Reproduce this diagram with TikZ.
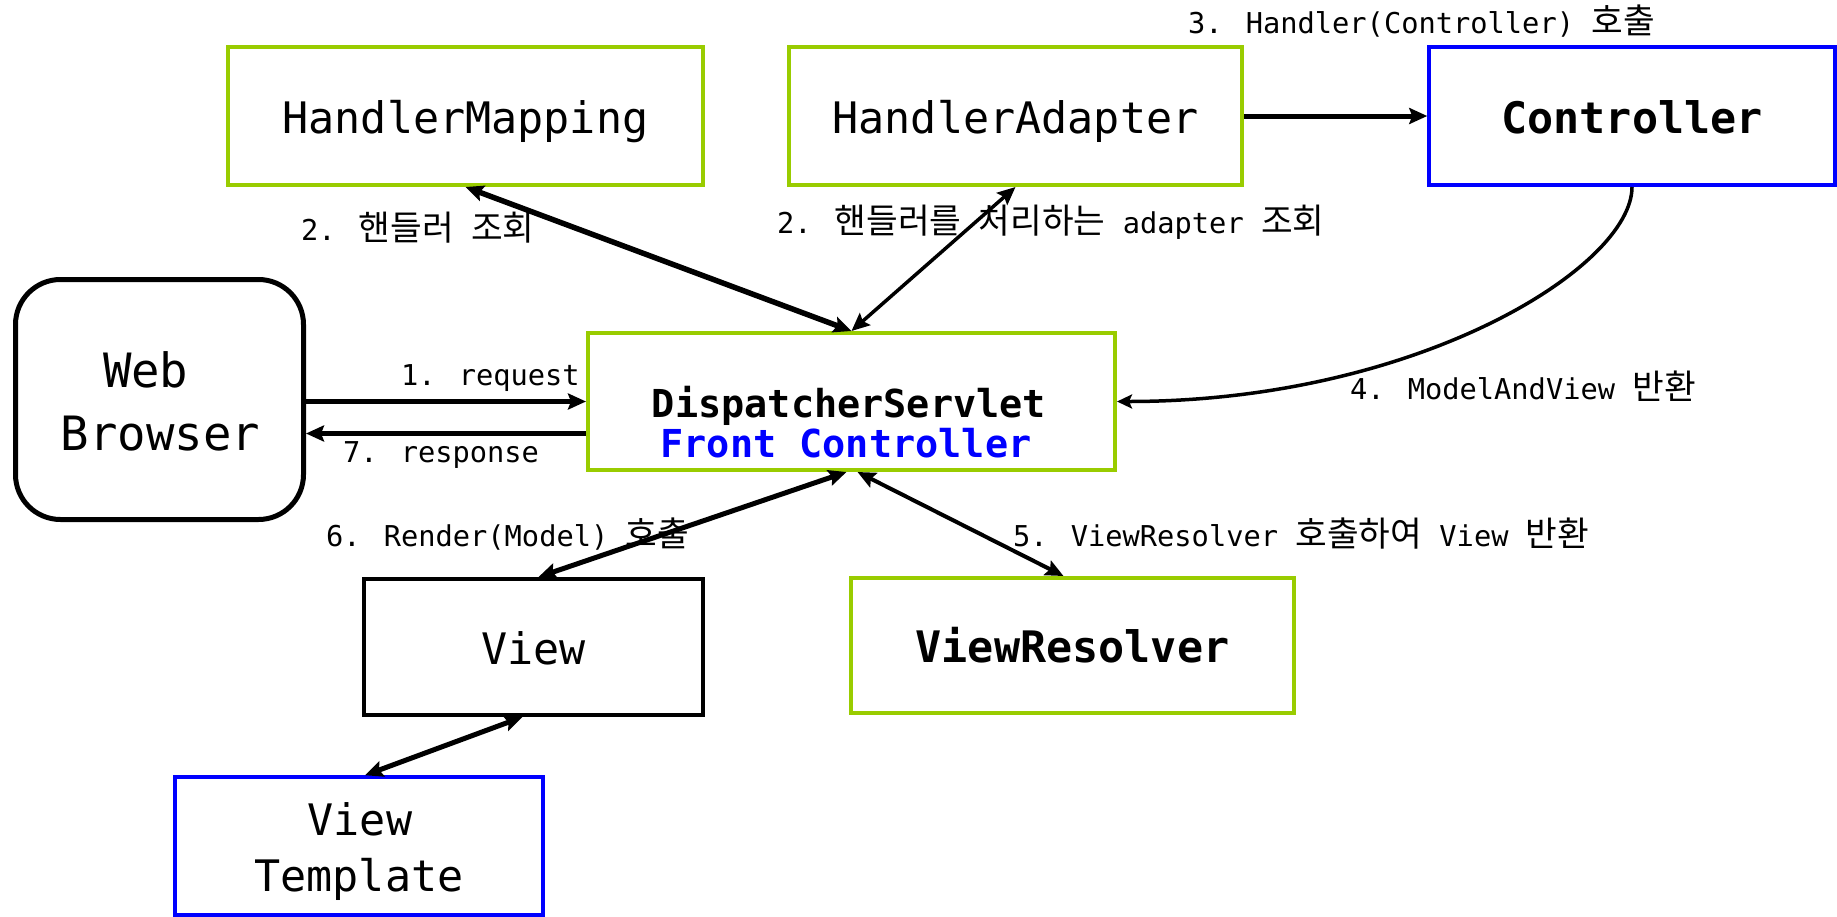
\documentclass[tikz,border=0pt]{standalone}
\usepackage{fontspec}
\setmainfont{DejaVu Sans Mono}
\newfontfamily\kr[Scale=1.2]{Noto Sans CJK KR}
\usetikzlibrary{arrows.meta,calc}
\definecolor{lgreen}{RGB}{153,204,0}
\definecolor{pblue}{RGB}{0,0,255}
\tikzset{
  box/.style={draw, line width=4pt, rectangle, minimum height=138pt, text height=34pt, text depth=0pt, inner sep=0pt},
  gbox/.style={box, draw=lgreen},
  bbox/.style={box, draw=pblue},
  kbox/.style={box, draw=black},
  big/.style={font=\fontsize{43.4}{52}\selectfont},
  bigb/.style={font=\fontsize{43.4}{52}\selectfont\bfseries},
  txt/.style={anchor=base, inner sep=0pt},
  lbl/.style={anchor=base west, inner sep=0pt, font=\fontsize{28.7}{34}\selectfont},
  conn/.style={line width=5pt, {Stealth[length=18pt,width=16pt,inset=3pt]}-{Stealth[length=18pt,width=16pt,inset=3pt]}},
  oneway/.style={line width=5pt, -{Stealth[length=18pt,width=16pt,inset=3pt]}}
}
\begin{document}
\begin{tikzpicture}[x=1pt,y=-1pt]
\useasboundingbox (0,0) rectangle (1837,916);
% boxes
\node[gbox, big, minimum width=475pt] (hm) at (465.5,116) {HandlerMapping};
\node[gbox, big, minimum width=453pt] (ha) at (1015.5,116) {HandlerAdapter};
\node[bbox, bigb, minimum width=405.5pt] (ctrl) at (1632,116) {Controller};
\node[gbox, minimum width=527pt, minimum height=137pt] (ds) at (851.5,401.5) {};
\node[kbox, rounded corners=45pt, line width=5pt, minimum width=288pt, minimum height=240pt] (wb) at (159.5,399.5) {};
\node[kbox, big, minimum width=339pt, minimum height=136pt] (view) at (533.5,647) {View};
\node[gbox, bigb, minimum width=443pt, minimum height=135pt] (vr) at (1072.5,645.5) {ViewResolver};
\node[bbox, minimum width=368pt, minimum height=137.5pt] (vt) at (359,846) {};
% multi-line box texts
\node[txt, font=\fontsize{47.3}{56}\selectfont] (wbT1) at (160,387) {Web\hphantom{W}};
\node[txt, font=\fontsize{47.3}{56}\selectfont] (wbT2) at (160.5,450) {Browser};
\node[txt, font=\fontsize{38.5}{40}\selectfont\bfseries] (dsT1) at (849,417) {DispatcherServlet};
\node[txt, font=\fontsize{38.5}{40}\selectfont\bfseries, text=pblue] (dsT2) at (846,457) {Front Controller};
\node[txt, big] (vtT1) at (360,835) {View};
\node[txt, big] (vtT2) at (359,891) {Template};
% labels
\node[lbl] (l3) at (1188,33) {3. Handler(Controller) {\kr 호출}};
\node[lbl] (l2a) at (301,240) {2. {\kr 핸들러} {\kr 조회}};
\node[lbl] (l2b) at (777,233) {2. {\kr 핸들러를} {\kr 처리하는} adapter {\kr 조회}};
\node[lbl] (l1) at (401,385) {1. request};
\node[lbl] (l7) at (343,462) {7. response};
\node[lbl] (l4) at (1350,399) {4. ModelAndView {\kr 반환}};
\node[lbl] (l6) at (326,546) {6. Render(Model) {\kr 호출}};
\node[lbl] (l5) at (1013,546) {5. ViewResolver {\kr 호출하여} View {\kr 반환}};
% connectors
\draw[conn, line width=5.5pt] (hm.south) -- (ds.north);
\draw[conn, line width=3.5pt] (ha.south) -- (ds.north);
\draw[oneway] (ha.east) -- (ctrl.west);
\draw[line width=3.5pt, -{Stealth[length=15pt,width=14pt,inset=3pt]}] (ctrl.south) .. controls ($(ctrl.south)+(0,80)$) and ($(ds.east)+(300,0)$) .. (ds.east);
\draw[oneway] (wb.east |- ds.west) -- (ds.west);
\coordinate (rsp) at ($(ds.west)+(0,32)$);
\draw[oneway] (rsp) -- (rsp -| wb.east);
\draw[conn] ($(ds.south)+(-5,0)$) -- ($(view.north)+(5,0)$);
\draw[conn, line width=4pt] ($(ds.south)+(6,0)$) -- ($(vr.north)+(-9,0)$);
\draw[conn] ($(view.south)+(-11,0)$) -- ($(vt.north)+(6,0)$);
\end{tikzpicture}
\end{document}
